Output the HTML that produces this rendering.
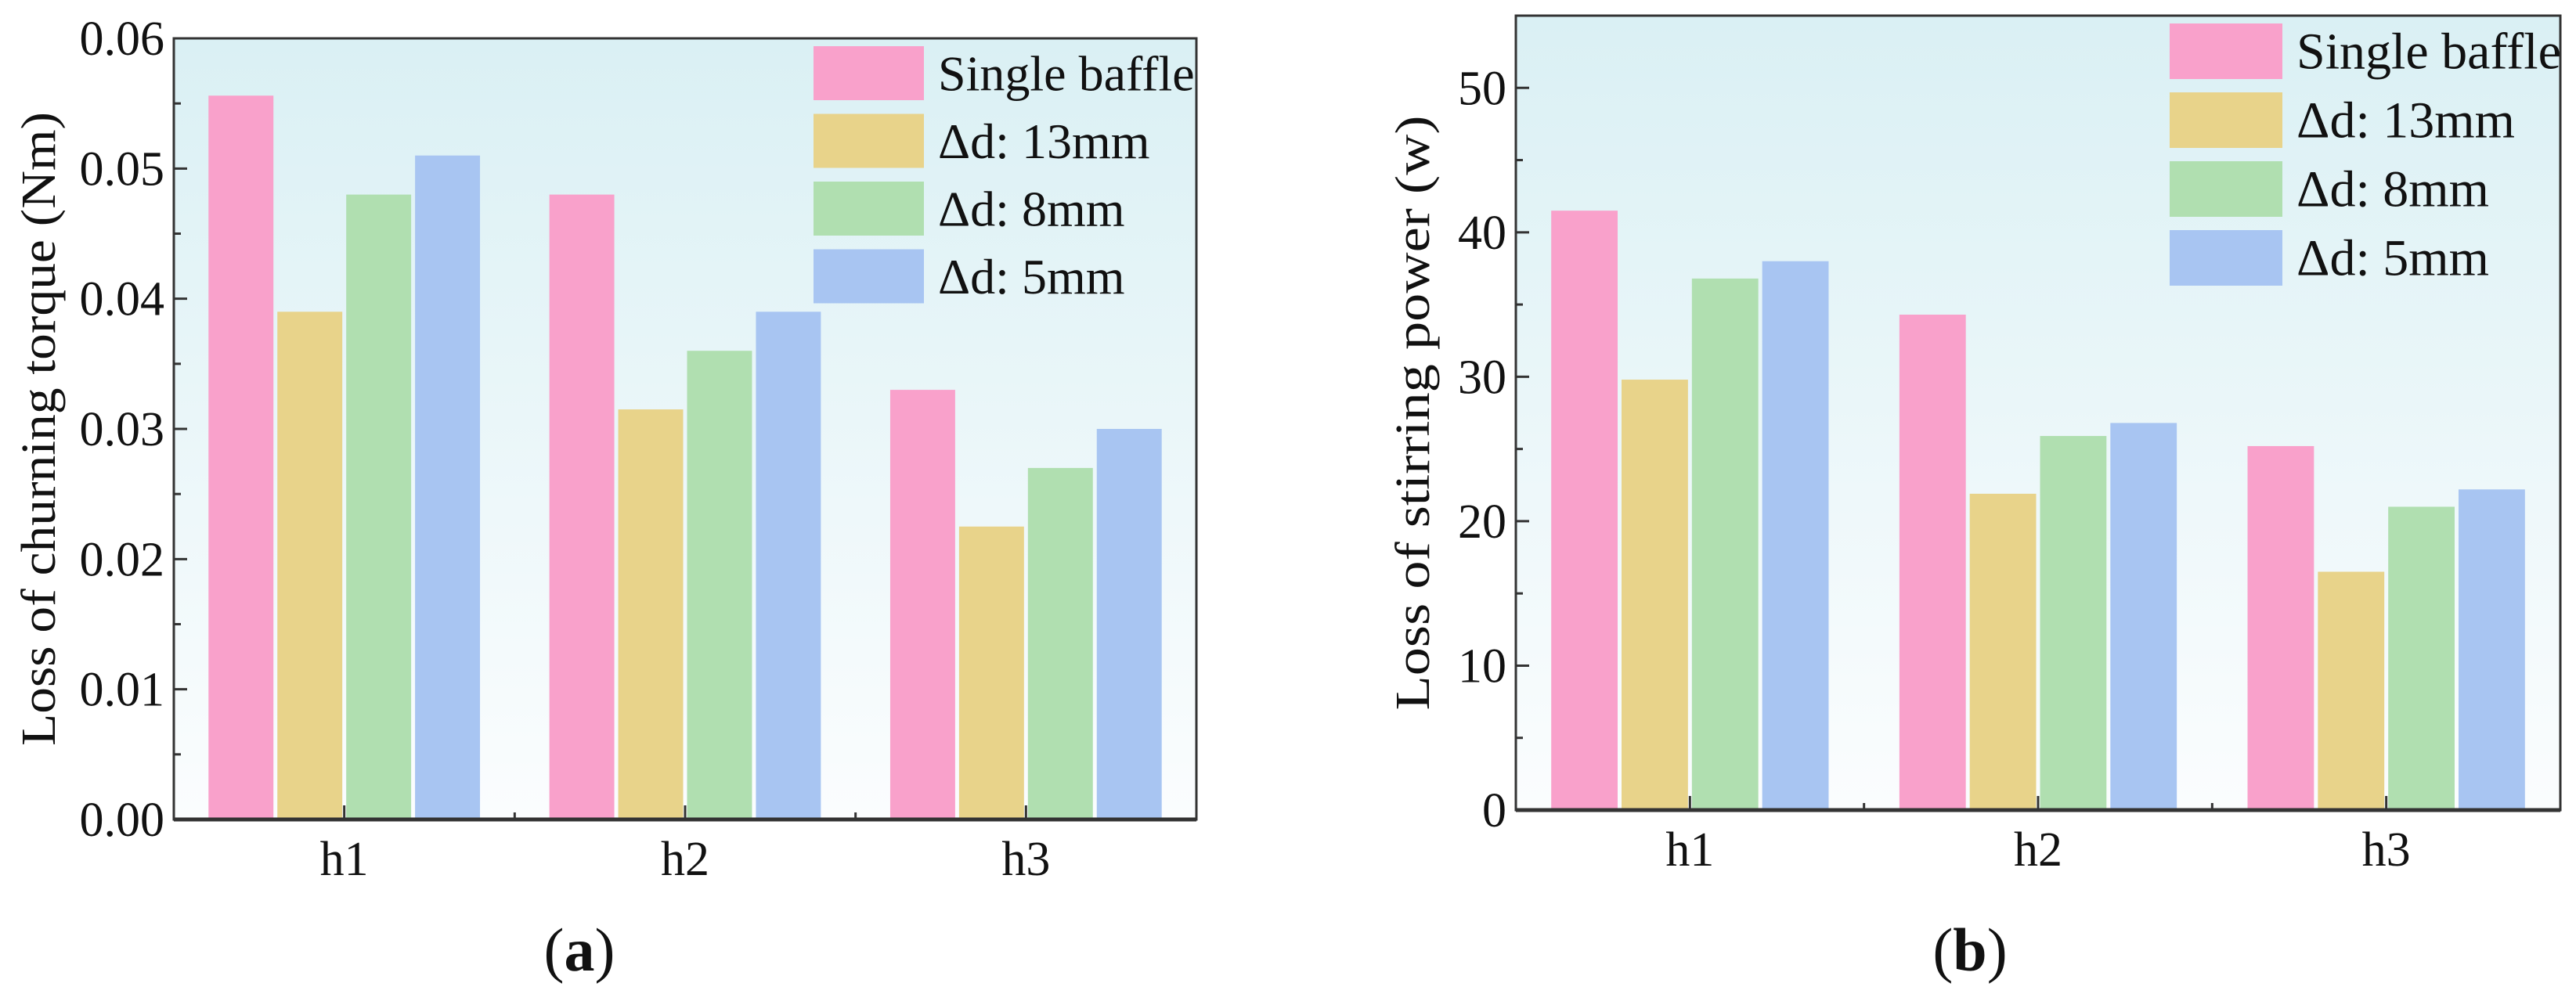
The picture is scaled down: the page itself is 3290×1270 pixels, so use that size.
<!DOCTYPE html>
<html><head><meta charset="utf-8"><style>
html,body{margin:0;padding:0;background:#fff;width:3290px;height:1270px;overflow:hidden}
svg text{font-family:"Liberation Serif",serif;fill:#111}
</style></head><body>
<svg id="fig" width="3290" height="1270" xmlns="http://www.w3.org/2000/svg">
<defs>
<linearGradient id="bg" x1="0" y1="0" x2="0" y2="1">
<stop offset="0" stop-color="#daf0f4"/><stop offset="1" stop-color="#fbfdfe"/>
</linearGradient>
</defs>
</svg>
<script>
const categories = ["h1","h2","h3"];
const seriesNames = ["Single baffle","Δd: 13mm","Δd: 8mm","Δd: 5mm"];
const torqueSingle = [0.0556,0.048,0.033];
const torque13 = [0.039,0.0315,0.0225];
const torque8 = [0.048,0.036,0.027];
const torque5 = [0.051,0.039,0.030];
const powerSingle = [41.5,34.3,25.2];
const power13 = [29.8,21.9,16.5];
const power8 = [36.8,25.9,21.0];
const power5 = [38.0,26.8,22.2];
const torqueTicks = ["0.00","0.01","0.02","0.03","0.04","0.05","0.06"];
const powerTicks = ["0","10","20","30","40","50"];
const colors = ["#f9a1cb","#e8d38a","#b0dfb0","#a8c5f2"];

const NS="http://www.w3.org/2000/svg";
const svg=document.getElementById('fig');
function mk(tag,attrs,parent){const e=document.createElementNS(NS,tag);for(const k in attrs)e.setAttribute(k,attrs[k]);(parent||svg).appendChild(e);return e;}

function chart(cfg){
  const g=mk('g',{});
  
  
  const L=cfg.L,R=cfg.R,T=cfg.T,B=cfg.B;
  const y=v=>B-(v-cfg.min)/(cfg.max-cfg.min)*(B-T);
  const gw=(R-L)/categories.length;
  const x=i=>L+gw*(i+0.5);
  const bg=mk('rect',{x:L,y:T,width:R-L,height:B-T,fill:'url(#bg)'},g);
  
  
  const series=cfg.series;
  const step=gw*0.202, bw=step-5;
  series.forEach((vals,s)=>{
    vals.forEach((v,i)=>{
      const cx=x(i)+(s-1.5)*step;
      const r=mk('rect',{x:cx-bw/2,y:y(v),width:bw,height:B-y(v),fill:colors[s]},g);
      
      
    });
  });
  // frame
  const fr=mk('rect',{x:L,y:T,width:R-L,height:B-T,fill:'none',stroke:'#333',"stroke-width":3},g);
  
  
  mk('line',{x1:L,y1:B,x2:R,y2:B,stroke:'#333',"stroke-width":5},g);
  // y ticks
  cfg.ticks.forEach((t,i)=>{
    const v=cfg.min+i*cfg.tickStep;
    const yy=y(v);
    mk('line',{x1:L,y1:yy,x2:L+17,y2:yy,stroke:'#333',"stroke-width":3},g);
    if(i<cfg.ticks.length-1){const ym=y(v+cfg.tickStep/2);mk('line',{x1:L,y1:ym,x2:L+9,y2:ym,stroke:'#333',"stroke-width":3},g);}
    const tx=mk('text',{x:L-12,y:yy+21,"text-anchor":'end',"font-size":cfg.tfs},g);
    tx.textContent=t;
    
    
  });
  // x ticks
  categories.forEach((c,i)=>{
    mk('line',{x1:x(i),y1:B,x2:x(i),y2:B-18,stroke:'#333',"stroke-width":3},g);
    if(i<categories.length-1) mk('line',{x1:L+gw*(i+1),y1:B,x2:L+gw*(i+1),y2:B-9,stroke:'#333',"stroke-width":3},g);
    const tx=mk('text',{x:x(i),y:cfg.xly,"text-anchor":'middle',"font-size":cfg.tfs},g);
    tx.textContent=c;
    
    
  });
  // y title
  const yt=mk('text',{x:0,y:0,"text-anchor":'middle',"font-size":cfg.tfs,transform:`translate(${cfg.ytx},${(T+B)/2}) rotate(-90)`,textLength:cfg.ytl,lengthAdjust:'spacingAndGlyphs'},g);
  yt.textContent=cfg.ytitle;
  
  
  // legend
  seriesNames.forEach((n,s)=>{
    const ry=cfg.legY+s*cfg.legStep;
    const sw=mk('rect',{x:cfg.legX,y:ry,width:cfg.legW,height:cfg.legH,fill:colors[s]},g);
    
    
    const tx=mk('text',{x:cfg.legX+cfg.legW+18,y:ry+cfg.legH/2+22,"font-size":cfg.lfs},g);
    tx.textContent=n;
    
    
  });
  // panel label
  const pl=mk('text',{x:cfg.plx,y:1240,"text-anchor":'middle',"font-size":78},g);
  pl.innerHTML='(<tspan font-weight="bold">'+cfg.pl+'</tspan>)';
  
  
}

chart({name:'torque-chart',L:222,R:1528,T:49,B:1047,min:0,max:0.06,tickStep:0.01,ticks:torqueTicks,
  series:[torqueSingle,torque13,torque8,torque5],tfs:62,xly:1118,ytx:70,ytl:810,
  ytitle:'Loss of churning  torque (Nm)',legX:1039,legY:59,legStep:86.5,legW:141,legH:69,lfs:64,plx:740,pl:'a'});
chart({name:'power-chart',L:1936,R:3270,T:20,B:1035,min:0,max:55,tickStep:10,ticks:powerTicks,
  series:[powerSingle,power13,power8,power5],tfs:62,xly:1106,ytx:1825,ytl:760,
  ytitle:'Loss of stirring power (w)',legX:2771,legY:30,legStep:88,legW:144,legH:71,lfs:66,plx:2516,pl:'b'});
</script>
</body></html>
